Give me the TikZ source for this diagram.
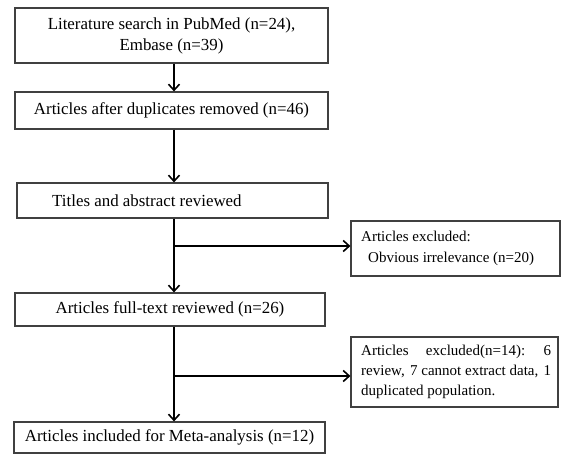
\documentclass[tikz,border=0pt]{standalone}
\usepackage{fontspec}
\setmainfont{Liberation Serif}
\usetikzlibrary{arrows.meta}
\begin{document}
\begin{tikzpicture}[x=1pt,y=-1pt,
  box/.style={draw=black!75,line width=1.2pt,rectangle,inner sep=0pt,font=\fontsize{16.9}{21}\selectfont},
  flow/.style={line width=1.6pt,-{Straight Barb[length=6pt,width=11pt,line width=1.6pt]}},
  txt/.style={inner sep=0pt,font=\fontsize{16.9}{21}\selectfont},
  stxt/.style={inner sep=0pt,font=\fontsize{15}{20}\selectfont}]
\useasboundingbox (0,0) rectangle (562,453);
\node[box,minimum width=313pt,minimum height=55pt,align=center] (b1) at (171.5,35.5) {Literature search in PubMed (n=24),\\Embase (n=39)};
\node[box,minimum width=313pt,minimum height=37pt] (b2) at (171.5,110.5) {Articles after duplicates removed (n=46)};
\node[box,minimum width=311pt,minimum height=35pt] (b3) at (172.5,200.5) {};
\node[txt,anchor=west] (t3) at (52,200.5) {Titles and abstract reviewed};
\node[box,minimum width=310pt,minimum height=33pt] (b4) at (170,309.5) {Articles full-text reviewed (n=26)};
\node[box,minimum width=311pt,minimum height=31pt] (b5) at (169.5,437.5) {Articles included for Meta-analysis (n=12)};
\node[box,minimum width=209pt,minimum height=55pt] (r1) at (455.5,248.5) {};
\node[stxt,anchor=west] (r1a) at (361,236) {Articles excluded:};
\node[stxt,anchor=west] (r1b) at (368,259) {Obvious irrelevance (n=20)};
\node[box,minimum width=207pt,minimum height=70pt] (r2) at (454.5,372) {};
\node[stxt,anchor=north west,align=left] (r2t) at (361,345) {\makebox[190pt][s]{Articles \hfill excluded(n=14): \hfill 6}\\\makebox[190pt][s]{review, \hfill 7 cannot extract data, \hfill 1}\\duplicated population.};
\coordinate (ax) at (174,0);
\coordinate (j1) at (174,246);
\coordinate (j2) at (174,376);
\draw[flow] (b1.south -| ax) -- (b2.north -| ax);
\draw[flow] (b2.south -| ax) -- (b3.north -| ax);
\draw[flow] (b3.south -| ax) -- (b4.north -| ax);
\draw[flow] (b4.south -| ax) -- (b5.north -| ax);
\draw[flow] (j1) -- (j1 -| r1.west);
\draw[flow] (j2) -- (j2 -| r2.west);
\end{tikzpicture}
\end{document}
